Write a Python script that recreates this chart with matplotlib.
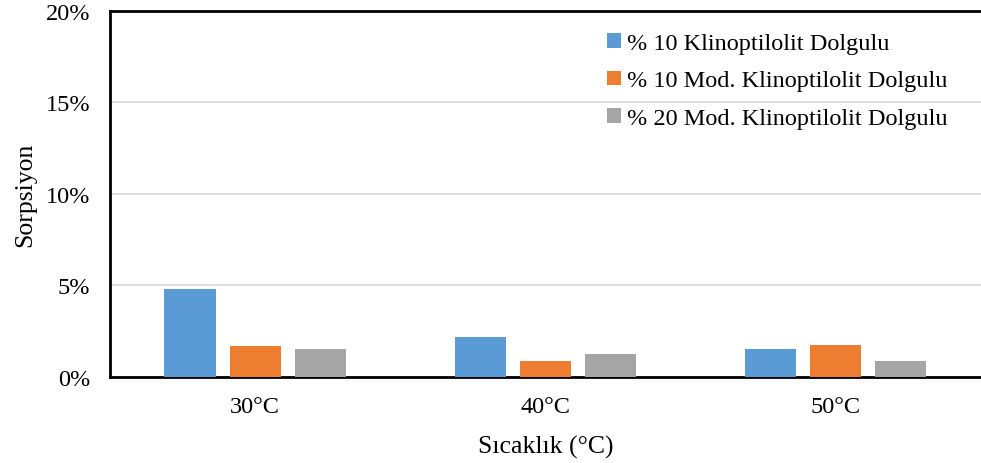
import numpy as np
import matplotlib.pyplot as plt
from matplotlib.ticker import PercentFormatter

plt.rcParams["font.family"] = ["Liberation Serif", "DejaVu Serif"]

# Chart data
temperatures = ["30°C", "40°C", "50°C"]
series_labels = [
    "% 10 Klinoptilolit Dolgulu",
    "% 10 Mod. Klinoptilolit Dolgulu",
    "% 20 Mod. Klinoptilolit Dolgulu",
]
klin_10 = [4.79, 2.18, 1.53]
mod_klin_10 = [1.66, 0.88, 1.71]
mod_klin_20 = [1.49, 1.26, 0.84]
colors = ["#5B9BD5", "#ED7D31", "#A5A5A5"]

fig = plt.figure(figsize=(9.81, 4.64), dpi=100)
ax = fig.add_axes([0.112, 0.186, 0.888, 0.788])

x = np.arange(len(temperatures))
width = 0.176
step = 0.224
for i, (vals, lab, col) in enumerate(zip([klin_10, mod_klin_10, mod_klin_20], series_labels, colors)):
    ax.bar(x + (i - 1) * step, vals, width, label=lab, color=col, zorder=3)

ax.set_xlim(-0.5, 2.5)
ax.set_ylim(0, 20)
ax.set_yticks([0, 5, 10, 15, 20])
ax.yaxis.set_major_formatter(PercentFormatter(decimals=0))
ax.set_xticks(x)
ax.set_xticklabels(temperatures)
ax.tick_params(axis="both", length=0, labelsize=17.5)
ax.tick_params(axis="x", pad=14)
ax.tick_params(axis="y", pad=14)
ax.grid(axis="y", color="#D9D9D9", linewidth=1.2, zorder=0)

for side in ["left", "top", "bottom"]:
    ax.spines[side].set_color("black")
    ax.spines[side].set_linewidth(2)
ax.spines["right"].set_visible(False)

ax.set_xlabel("Sıcaklık (°C)", fontsize=18.5, labelpad=13)
ax.set_ylabel("Sorpsiyon", fontsize=18.5, labelpad=7)

ax.legend(loc="upper left", bbox_to_anchor=(0.546, 1.0), frameon=False,
          fontsize=17.5, handlelength=0.55, handleheight=0.55, handletextpad=0.25,
          labelspacing=0.68)

fig.savefig("out.png", dpi=100)
